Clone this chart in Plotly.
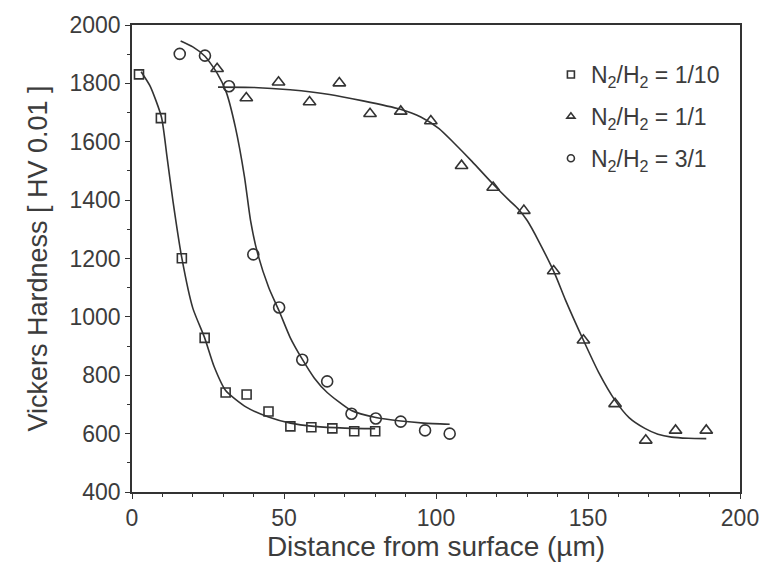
import plotly.graph_objects as go

# Measured data points
x_110 = [2.3, 9.5, 16.4, 23.9, 30.8, 37.7, 44.9, 52.1, 59.0, 65.9, 73.1, 80.0]
y_110 = [1831, 1681, 1201, 928, 741, 734, 676, 625, 622, 618, 608, 608]

x_11 = [28.0, 37.6, 48.2, 58.4, 68.2, 78.3, 88.4, 98.3, 108.4, 118.8, 128.9, 138.7, 148.5, 158.9, 169.0, 178.8, 188.9]
y_11 = [1850, 1750, 1804, 1736, 1801, 1696, 1704, 1671, 1518, 1443, 1364, 1157, 920, 702, 577, 611, 611]

x_31 = [15.7, 24.0, 31.9, 39.9, 48.4, 56.0, 64.2, 72.2, 80.2, 88.4, 96.4, 104.5]
y_31 = [1901, 1895, 1790, 1214, 1032, 853, 779, 668, 652, 641, 611, 600]

# Fitted curves
fx_110 = [3, 6, 9.7, 11.5, 13.5, 16.4, 20, 23.9, 27, 30.8, 37.6, 44.9, 52.1, 60, 70, 80]
fy_110 = [1840, 1790, 1684, 1550, 1395, 1201, 1030, 928, 830, 748, 691, 657, 636, 625, 619, 617]

fx_31 = [16, 20, 24, 28, 31, 34, 37, 39, 41.4, 45, 48.4, 52, 56, 60, 64.2, 72.2, 80.2, 88.4, 96, 104.5]
fy_31 = [1945, 1925, 1893, 1835, 1770, 1650, 1480, 1330, 1214, 1100, 1020, 930, 855, 790, 741, 679, 655, 643, 636, 632]

fx_11 = [28.3, 40, 52, 65, 76, 88, 95, 101, 106, 111.9, 118.5, 124, 127.2, 130, 133.8, 139.2, 142.5, 148.5, 153.5, 158.9, 163.5, 168.7, 173, 177.5, 183, 188.9]
fy_11 = [1787, 1786, 1778, 1762, 1740, 1712, 1685, 1645, 1595, 1532, 1458, 1400, 1368, 1330, 1259, 1145, 1060, 920, 810, 714, 655, 618, 598, 588, 584, 583]

names = ["N<sub>2</sub>/H<sub>2</sub> = 1/10",
         "N<sub>2</sub>/H<sub>2</sub> = 1/1",
         "N<sub>2</sub>/H<sub>2</sub> = 3/1"]
symbols = ["square-open", "triangle-up-open", "circle-open"]

INK = "#333333"
TXT = "#3c3c3c"
FONT = "Liberation Sans, Arial, sans-serif"
fig = go.Figure()

for fx, fy in [(fx_110, fy_110), (fx_31, fy_31), (fx_11, fy_11)]:
    fig.add_trace(go.Scatter(x=fx, y=fy, mode="lines", showlegend=False,
                             line=dict(color=INK, width=1.6, shape="spline", smoothing=0.6),
                             hoverinfo="skip"))

sizes = [9, 11, 11]
for xs, ys, sym, nm, sz in zip([x_110, x_11, x_31], [y_110, y_11, y_31], symbols, names, sizes):
    fig.add_trace(go.Scatter(x=xs, y=ys, mode="markers", name=nm, showlegend=False,
                             marker=dict(symbol=sym, size=sz, color=INK,
                                         line=dict(width=1.6, color=INK))))

# legend-only entries with small symbols, like the reference
for i, (sym, nm) in enumerate(zip(symbols, names)):
    fig.add_trace(go.Scatter(x=[None], y=[None], mode="markers", name=nm,
                             legendgroup=f"g{i}",
                             marker=dict(symbol=sym, size=7, color=INK,
                                         line=dict(width=1.6, color=INK))))

axis_common = dict(showline=True, linecolor="#333333", linewidth=1.5, mirror=True,
                   ticks="outside", ticklen=5, tickwidth=1.3, tickcolor="#333333",
                   showgrid=False, zeroline=False,
                   tickfont=dict(family=FONT, size=23, color=TXT))

fig.update_xaxes(range=[0, 200], dtick=50, title_text="Distance from surface (µm)",
                 title_font=dict(family=FONT, size=28, color=TXT),
                 minor=dict(dtick=10, ticks="outside", ticklen=3, tickcolor="#333333"),
                 title_standoff=6, **axis_common)
fig.update_yaxes(range=[400, 2000], dtick=200, title_text="Vickers Hardness [ HV 0.01 ]",
                 title_font=dict(family=FONT, size=27, color=TXT),
                 minor=dict(dtick=100, ticks="outside", ticklen=3, tickcolor="#333333"),
                 title_standoff=14, **axis_common)

fig.update_layout(
    width=771, height=573,
    margin=dict(l=132, r=29, t=22, b=81),
    plot_bgcolor="white", paper_bgcolor="white",
    legend=dict(x=0.689, y=0.94, xanchor="left", yanchor="top",
                bgcolor="rgba(0,0,0,0)", borderwidth=0,
                font=dict(family=FONT, size=23, color=TXT),
                itemsizing="trace", tracegroupgap=9),
)

fig.write_html("out.html")
